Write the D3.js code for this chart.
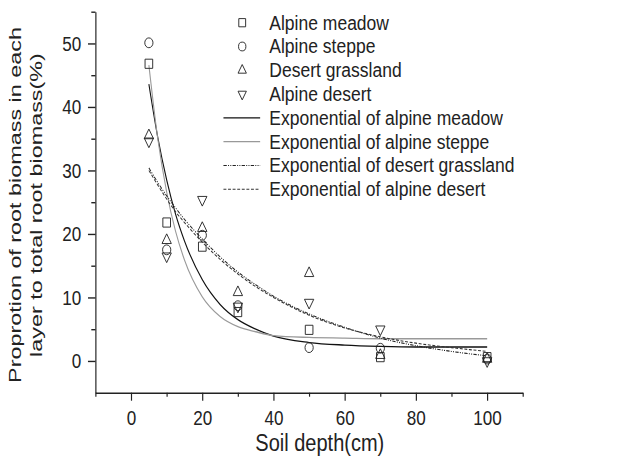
<!DOCTYPE html>
<html>
<head>
<meta charset="utf-8">
<script src="https://cdn.jsdelivr.net/npm/d3@7"></script>
<style>
  body { margin: 0; background: #fff; }
  svg { display: block; font-family: "Liberation Sans", Arial, sans-serif; }
  .axis path, .axis line { stroke: #222; stroke-width: 1.4; }
  .axis text { font-size: 20.5px; fill: #222; font-family: "Liberation Sans", Arial, sans-serif; }
</style>
</head>
<body>
<div id="chart"></div>
<script>
// Profondeurs de sol (cm)
const depths = [5, 10, 20, 30, 50, 70, 100];

// Proportion (%), par type de prairie
const alpineMeadow     = [46.8, 21.8, 18.0, 7.7, 4.9, 0.6, 0.6];
const alpineSteppe     = [50.1, 17.5, 19.8, 8.7, 2.1, 2.0, 0.3];
const desertGrassland  = [35.5, 19.0, 20.9, 10.8, 13.8, 0.9, 0.3];
const alpineDesert     = [34.6, 16.5, 25.4, 8.6, 9.2, 5.0, 0.0];

// Courbes d'ajustement exponentiel (valeurs relevées le long des courbes)
const fitX          = [5, 7.5, 10, 12.5, 15, 20, 25, 30, 35, 40, 50, 60, 70, 80, 90, 100];
const fitMeadow     = [43.6, 35.2, 28.5, 23.1, 18.9, 12.8, 8.9, 6.5, 5.0, 3.9, 2.9, 2.5, 2.3, 2.2, 2.2, 2.2];
const fitSteppe     = [46.6, 35.0, 26.6, 20.4, 15.9, 10.1, 7.0, 5.4, 4.6, 4.0, 3.7, 3.6, 3.5, 3.5, 3.5, 3.5];
const fitGrassland  = [30.4, 28.1, 26.0, 24.1, 22.3, 19.2, 16.4, 14.0, 12.0, 10.2, 7.4, 5.3, 3.6, 2.4, 1.5, 0.8];
const fitDesert     = [30.0, 27.7, 25.5, 23.5, 21.8, 18.7, 16.0, 13.7, 11.7, 10.0, 7.2, 5.2, 3.8, 2.8, 2.1, 1.5];

const xMajor = [0, 20, 40, 60, 80, 100];
const xMinor = [-10, 10, 30, 50, 70, 90, 110];
const yMajor = [0, 10, 20, 30, 40, 50];
const yMinor = [5, 15, 25, 35, 45, 55];

const series = [
    { name: "Alpine meadow", values: alpineMeadow, symbol: d3.symbolSquare, size: 84, rotate: 0 },
    { name: "Alpine steppe", values: alpineSteppe, symbol: d3.symbolCircle, size: 76, rotate: 0 },
    { name: "Desert grassland", values: desertGrassland, symbol: d3.symbolTriangle, size: 54, rotate: 0 },
    { name: "Alpine desert", values: alpineDesert, symbol: d3.symbolTriangle, size: 54, rotate: 180 }
];

const fits = [
    { name: "Exponential of alpine meadow", values: fitMeadow, color: "#111", dash: null, width: 1.3 },
    { name: "Exponential of alpine steppe", values: fitSteppe, color: "#999", dash: null, width: 1.3 },
    { name: "Exponential of desert grassland", values: fitGrassland, color: "#222", dash: "4,1.5,1.2,1.5,1.2,1.5", width: 1.1 },
    { name: "Exponential of alpine desert", values: fitDesert, color: "#333", dash: "3.5,2", width: 1.1 }
];

// La figure d'origine est étirée : on dessine sur 752 px de large, affichés sur 627
const W = 752, H = 467;

const svg = d3.select("#chart").append("svg")
    .attr("width", 627)
    .attr("height", 467)
    .attr("viewBox", `0 0 ${W} ${H}`)
    .attr("preserveAspectRatio", "none");

const x = d3.scaleLinear().domain([-10, 110]).range([114.5, 627]);
const y = d3.scaleLinear().domain([-5, 55]).range([392.7, 11.7]);

// Axes
svg.append("g").attr("class", "axis")
    .attr("transform", `translate(0,${y(-5)})`)
    .call(d3.axisBottom(x).tickValues(xMajor).tickSize(8).tickSizeOuter(0).tickPadding(10));
svg.append("g").attr("class", "axis")
    .attr("transform", `translate(0,${y(-5)})`)
    .call(d3.axisBottom(x).tickValues(xMinor).tickSize(4).tickSizeOuter(0).tickFormat(""))
    .select(".domain").remove();

svg.append("g").attr("class", "axis")
    .attr("transform", `translate(${x(-10)},0)`)
    .call(d3.axisLeft(y).tickValues(yMajor).tickSize(9).tickSizeOuter(0).tickPadding(8));
svg.append("g").attr("class", "axis")
    .attr("transform", `translate(${x(-10)},0)`)
    .call(d3.axisLeft(y).tickValues(yMinor).tickSize(5).tickSizeOuter(0).tickFormat(""))
    .select(".domain").remove();

// Titres des axes
svg.append("text")
    .attr("x", x(53))
    .attr("y", 451)
    .attr("text-anchor", "middle")
    .style("font-size", "24px")
    .attr("fill", "#222")
    .text("Soil depth(cm)");

const yTitle = svg.append("text")
    .attr("transform", `translate(25,205) rotate(-90) scale(1.23,1)`)
    .attr("text-anchor", "middle")
    .style("font-size", "19px")
    .attr("fill", "#222");
yTitle.append("tspan").attr("x", 0).attr("dy", 0).text("Proprotion of root biomass in each");
yTitle.append("tspan").attr("x", 0).attr("dy", 25).text("layer to total root biomass(%)");

// Courbes
const line = d3.line()
    .x((d, i) => x(fitX[i]))
    .y(d => y(d))
    .curve(d3.curveMonotoneX);

fits.forEach(f => {
    svg.append("path")
        .datum(f.values)
        .attr("d", line)
        .attr("fill", "none")
        .attr("stroke", f.color)
        .attr("stroke-width", f.width)
        .attr("stroke-dasharray", f.dash);
});

// Points
series.forEach(s => {
    svg.selectAll(null)
        .data(s.values)
        .enter()
        .append("path")
        .attr("d", d3.symbol().type(s.symbol).size(s.size))
        .attr("transform", (d, i) => `translate(${x(depths[i])},${y(d)}) rotate(${s.rotate})`)
        .attr("fill", "none")
        .attr("stroke", "#222")
        .attr("stroke-width", 1);
});

// Légende
const legend = svg.append("g");
const rowY = d3.range(8).map(i => 22.7 + i * 23.8);

series.forEach((s, i) => {
    legend.append("path")
        .attr("d", d3.symbol().type(s.symbol).size(s.size * 0.8))
        .attr("transform", `translate(290.5,${rowY[i]}) rotate(${s.rotate})`)
        .attr("fill", "none")
        .attr("stroke", "#222")
        .attr("stroke-width", 1);
    legend.append("text")
        .attr("x", 323)
        .attr("y", rowY[i] + 7)
        .style("font-size", "21px")
        .attr("fill", "#222")
        .text(s.name);
});

fits.forEach((f, j) => {
    const i = j + 4;
    legend.append("line")
        .attr("x1", 268).attr("x2", 312)
        .attr("y1", rowY[i]).attr("y2", rowY[i])
        .attr("stroke", f.color)
        .attr("stroke-width", f.width)
        .attr("stroke-dasharray", f.dash);
    legend.append("text")
        .attr("x", 323)
        .attr("y", rowY[i] + 7)
        .style("font-size", "21px")
        .attr("fill", "#222")
        .text(f.name);
});
</script>
</body>
</html>
